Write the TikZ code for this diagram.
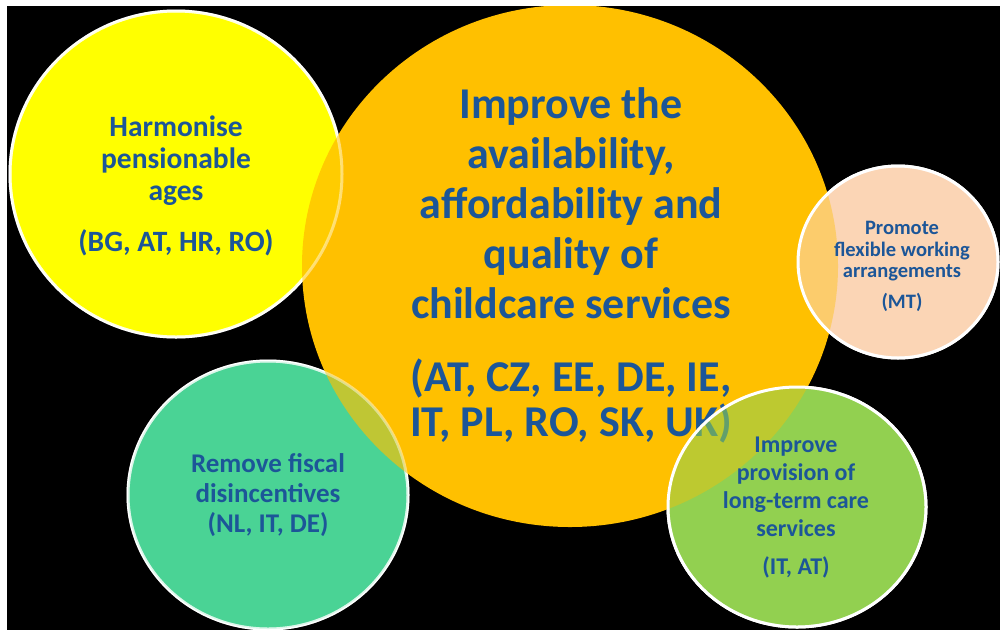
\documentclass[tikz,border=0pt]{standalone}
\usepackage{fontspec}
\setmainfont{Carlito}
\definecolor{txtblue}{RGB}{28,86,152}
\definecolor{bubyellow}{RGB}{255,255,0}
\definecolor{bubgold}{RGB}{255,192,0}
\definecolor{bubgreen}{RGB}{74,211,149}
\definecolor{bubpeach}{RGB}{251,213,181}
\definecolor{bublime}{RGB}{146,208,80}
\begin{document}
\begin{tikzpicture}[x = 1pt, y = -1pt,
  rim/.style = {draw = white, line width = 3pt},
  lbl/.style 2 args = {text = txtblue, align = center, inner sep = 0pt, font = \bfseries\fontsize{#1}{#2}\selectfont}]
\useasboundingbox (0, 0) rectangle (1000, 630);
\fill [white] (0, 0) rectangle (1000, 630);
\fill [black] (7, 6) rectangle (1000, 630);
\begin{scope}
\clip (7, 6) rectangle (1000, 630);
\draw [rim, fill = bubyellow] (176, 174) ellipse [x radius = 166pt, y radius = 163pt];
\draw [rim, fill = bubgreen] (268, 495) ellipse [x radius = 140pt, y radius = 134pt];
\draw [rim, fill = bubpeach] (898, 262) ellipse [x radius = 100pt, y radius = 96pt];
\draw [rim, fill = bublime] (797, 507) ellipse [x radius = 129pt, y radius = 120pt];
\fill [bubgold] (570, 266) ellipse [x radius = 268pt, y radius = 261pt];
\draw [rim, draw opacity = 0.45, fill = bubyellow, fill opacity = 0.2] (176, 174) ellipse [x radius = 166pt, y radius = 163pt];
\draw [rim, draw opacity = 0.45, fill = bubgreen, fill opacity = 0.35] (268, 495) ellipse [x radius = 140pt, y radius = 134pt];
\node (childcare) at (571, 265) [lbl = {44}{50}] {Improve the\\availability,\\affordability and\\quality of\\childcare services\\[23pt](AT, CZ, EE, DE, IE,\\[-5pt]IT, PL, RO, SK, UK)};
\draw [rim, fill = bubpeach, fill opacity = 0.6] (898, 262) ellipse [x radius = 100pt, y radius = 96pt];
\draw [rim, fill = bublime, fill opacity = 0.6] (797, 507) ellipse [x radius = 129pt, y radius = 120pt];
\end{scope}
\node (harmonise) at (176, 186) [lbl = {29.5}{32}] {Harmonise\\pensionable\\ages\\[19pt](BG, AT, HR, RO)};
\node (fiscal) at (268, 495) [lbl = {27}{30}] {Remove fiscal\\disincentives\\(NL, IT, DE)};
\node (flexible) at (902, 266.5) [lbl = {20.5}{21.5}] {Promote\\flexible working\\arrangements\\[9.5pt](MT)};
\node (longterm) at (796, 508) [lbl = {24}{28}] {Improve\\provision of\\long-term care\\services\\[10pt](IT, AT)};
\end{tikzpicture}
\end{document}
